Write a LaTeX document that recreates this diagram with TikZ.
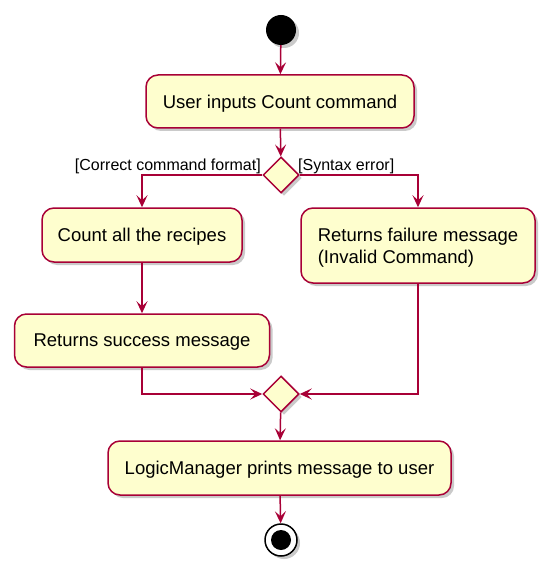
\documentclass[tikz,border=0pt]{standalone}
\usepackage{fontspec}
\setmainfont{Liberation Sans}
\usetikzlibrary{arrows.meta,shadows,shapes.geometric}
\definecolor{umlfill}{HTML}{FEFECE}
\definecolor{umlline}{HTML}{A80036}
\tikzset{
  x=1pt,y=-1pt,
  sh/.style={drop shadow={shadow xshift=3pt,shadow yshift=-3pt,opacity=0.35,fill=black!60}},
  act/.style={draw=umlline,fill=umlfill,line width=1.5pt,rounded corners=12pt,sh,
    font=\fontsize{18.5}{22}\selectfont,inner sep=0pt,align=left,text depth=0pt},
  dec/.style={draw=umlline,fill=umlfill,line width=1.5pt,diamond,aspect=1,
    minimum width=36pt,minimum height=36pt,inner sep=0pt,sh},
  guard/.style={font=\fontsize{16}{19}\selectfont,inner sep=0pt},
  flow/.style={draw=umlline,line width=1.5pt,-{Stealth[length=12pt,width=11pt,inset=5pt]}},
}
\begin{document}
\begin{tikzpicture}
\useasboundingbox (0,0) rectangle (550,572);
\node[circle,fill=black,minimum size=30pt,inner sep=0pt,sh] (start) at (281,30) {};
\node[act,minimum width=268pt,minimum height=53pt] (a1) at (280,101.5) {User inputs Count command};
\node[dec] (d1) at (281,175) {};
\node[act,minimum width=200pt,minimum height=54pt] (a2) at (142,235) {Count all the recipes};
\node[act,minimum width=255pt,minimum height=53pt] (a3) at (142,340.5) {Returns success message};
\node[act,minimum width=234pt,minimum height=75pt] (a4) at (418,245.5) {Returns failure message\\(Invalid Command)};
\node[dec] (d2) at (281,394) {};
\node[act,minimum width=343pt,minimum height=54pt] (a5) at (279.5,468) {LogicManager prints message to user};
\node[circle,draw=black,line width=1.5pt,fill=white,minimum size=32pt,inner sep=0pt,sh] (stop) at (281,540) {};
\node[circle,fill=black,minimum size=20pt,inner sep=0pt] (stopin) at (stop) {};
\node[guard,anchor=base east] (g1) at (261,170) {[Correct command format]};
\node[guard,anchor=base west] (g2) at (298,170) {[Syntax error]};
\draw[flow] (start) -- (a1);
\draw[flow] (a1) -- (d1);
\draw[flow] (d1.west) -| (a2.north);
\draw[flow] (d1.east) -| (a4.north);
\draw[flow] (a2) -- (a3);
\draw[flow] (a3.south) |- (d2.west);
\draw[flow] (a4.south) |- (d2.east);
\draw[flow] (d2) -- (a5);
\draw[flow] (a5) -- (stop);
\end{tikzpicture}
\end{document}
